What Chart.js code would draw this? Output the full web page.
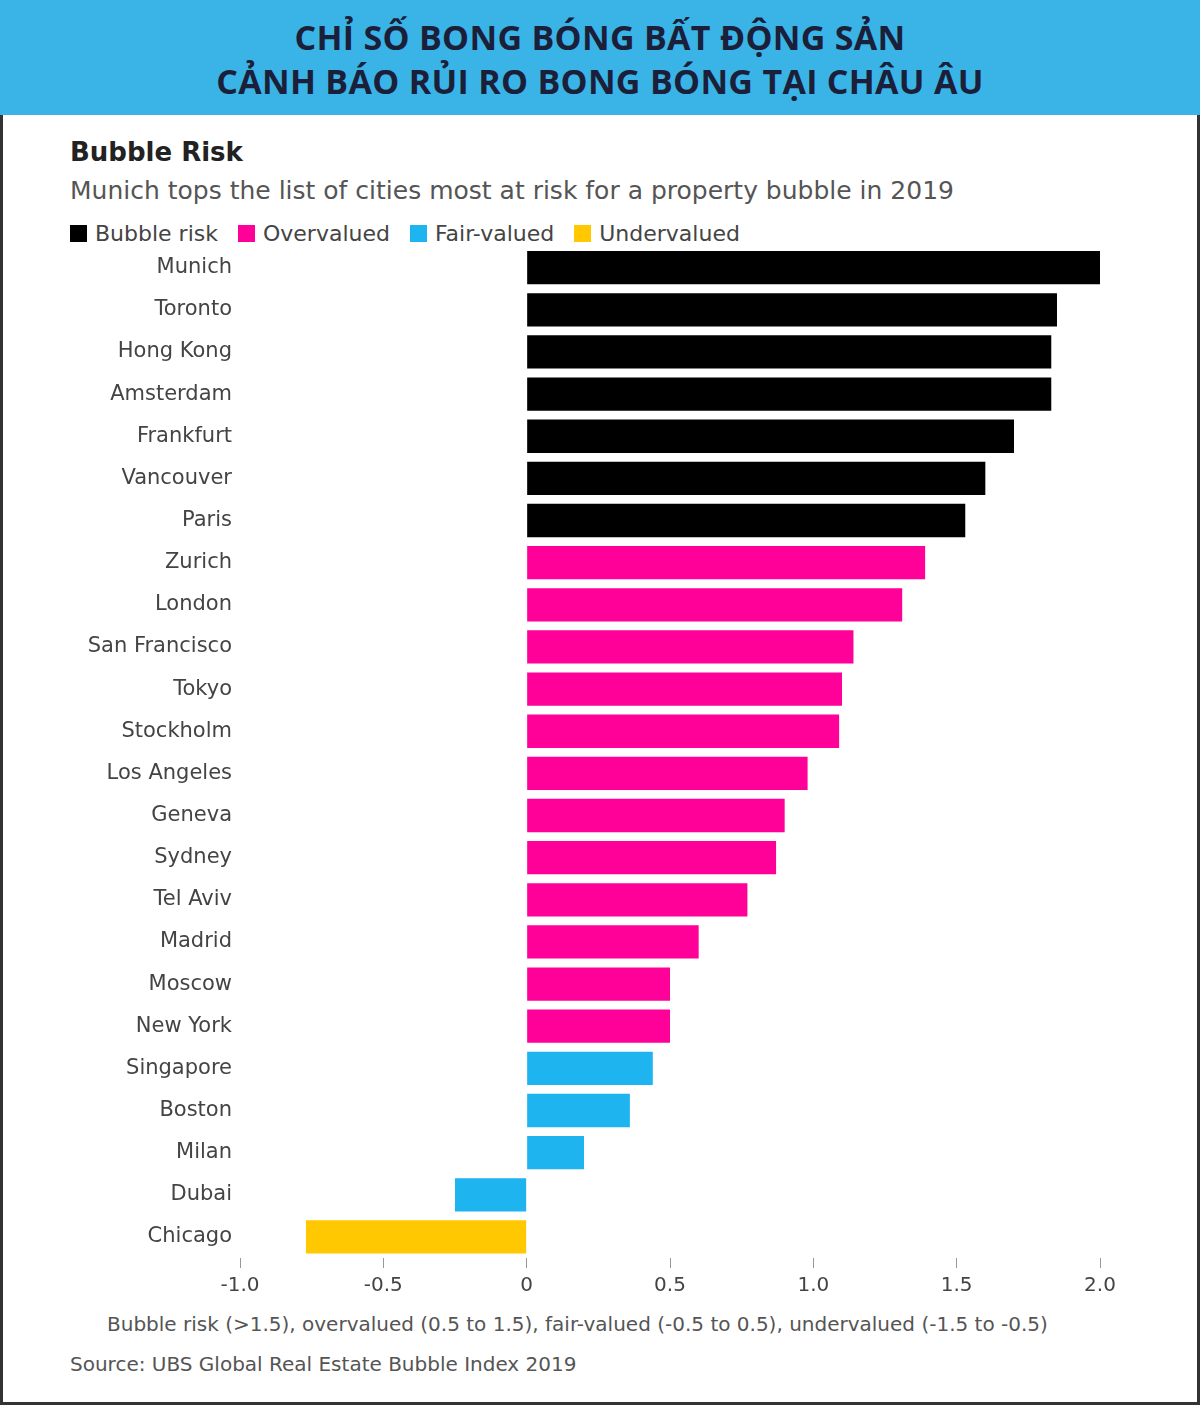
<!DOCTYPE html>
<html><head><meta charset="utf-8">
<script src="https://cdn.jsdelivr.net/npm/chart.js@4/dist/chart.umd.min.js"></script>
<style>
body{margin:0;width:1200px;height:1405px;position:relative;background:#fff;font-family:"DejaVu Sans",sans-serif;overflow:hidden}
#hdr{position:absolute;left:0;top:0;width:1200px;height:115px;background:#3AB4E6;text-align:center;font-family:"Open Sans",sans-serif;font-weight:700;font-size:34px;line-height:44px;color:#1b1f3a;padding-top:15px;box-sizing:border-box;letter-spacing:0.3px}
#frame{position:absolute;left:0;top:115px;width:1200px;height:1290px;border:3px solid #333;border-top:none;box-sizing:border-box}
.t{position:absolute;left:70px;color:#333;white-space:nowrap}
#leg span.sw{display:inline-block;width:17px;height:17px;vertical-align:-1px;margin-right:8px}
#leg span.it{margin-right:20px}
#wrap{position:absolute;left:0;top:234px;width:1200px;height:1071px}
</style></head><body>
<div id="hdr">CHỈ SỐ BONG BÓNG BẤT ĐỘNG SẢN<br>CẢNH BÁO RỦI RO BONG BÓNG TẠI CHÂU ÂU</div>
<div id="frame"></div>
<div class="t" style="top:137px;font-size:26px;font-weight:700;color:#222">Bubble Risk</div>
<div class="t" style="top:176px;font-size:25px;color:#555">Munich tops the list of cities most at risk for a property bubble in 2019</div>
<div class="t" id="leg" style="top:221px;font-size:22px;color:#444"></div>
<div id="wrap"><canvas id="c"></canvas></div>
<div class="t" style="top:1312px;left:107px;font-size:20px;color:#555">Bubble risk (&gt;1.5), overvalued (0.5 to 1.5), fair-valued (-0.5 to 0.5), undervalued (-1.5 to -0.5)</div>
<div class="t" style="top:1352px;font-size:20px;color:#555">Source: UBS Global Real Estate Bubble Index 2019</div>
<script>
const categories=["Munich","Toronto","Hong Kong","Amsterdam","Frankfurt","Vancouver","Paris","Zurich","London","San Francisco","Tokyo","Stockholm","Los Angeles","Geneva","Sydney","Tel Aviv","Madrid","Moscow","New York","Singapore","Boston","Milan","Dubai","Chicago"];
const values=[2.00,1.85,1.83,1.83,1.70,1.60,1.53,1.39,1.31,1.14,1.10,1.09,0.98,0.90,0.87,0.77,0.60,0.50,0.50,0.44,0.36,0.20,-0.25,-0.77];
const groups=["Bubble risk","Bubble risk","Bubble risk","Bubble risk","Bubble risk","Bubble risk","Bubble risk","Overvalued","Overvalued","Overvalued","Overvalued","Overvalued","Overvalued","Overvalued","Overvalued","Overvalued","Overvalued","Overvalued","Overvalued","Fair-valued","Fair-valued","Fair-valued","Fair-valued","Undervalued"];
const legendNames=["Bubble risk","Overvalued","Fair-valued","Undervalued"];
const legendColors=["#000000","#FF0099","#1EB4F0","#FFC800"];
const tickLabels={"-1":"-1.0","-0.5":"-0.5","0":"0","0.5":"0.5","1":"1.0","1.5":"1.5","2":"2.0"};

document.getElementById('leg').innerHTML=legendNames.map((n,i)=>`<span class="it"><span class="sw" style="background:${legendColors[i]}"></span>${n}</span>`).join('');
const colors=groups.map(g=>legendColors[legendNames.indexOf(g)]);
new Chart(document.getElementById('c'),{
 type:'bar',
 data:{labels:categories,datasets:[{data:values,backgroundColor:colors,barPercentage:0.79,categoryPercentage:1}]},
 options:{indexAxis:'y',responsive:true,maintainAspectRatio:false,animation:false,
  layout:{padding:{top:5,right:100,left:0,bottom:0}},
  plugins:{legend:{display:false},tooltip:{enabled:false}},
  scales:{
   x:{min:-1,max:2,ticks:{stepSize:0.5,color:'#444',font:{family:'DejaVu Sans',size:20},padding:6,callback:v=>tickLabels[String(v)]??''},
      grid:{drawOnChartArea:false,drawTicks:true,tickLength:10,color:'#999'},border:{display:false},
      afterFit:s=>{s.height=47;}},
   y:{ticks:{color:'#444',font:{family:'DejaVu Sans',size:21},padding:0},grid:{display:false},border:{display:false},
      afterFit:s=>{s.width=240;}}
  }}
});
</script>
</body></html>
